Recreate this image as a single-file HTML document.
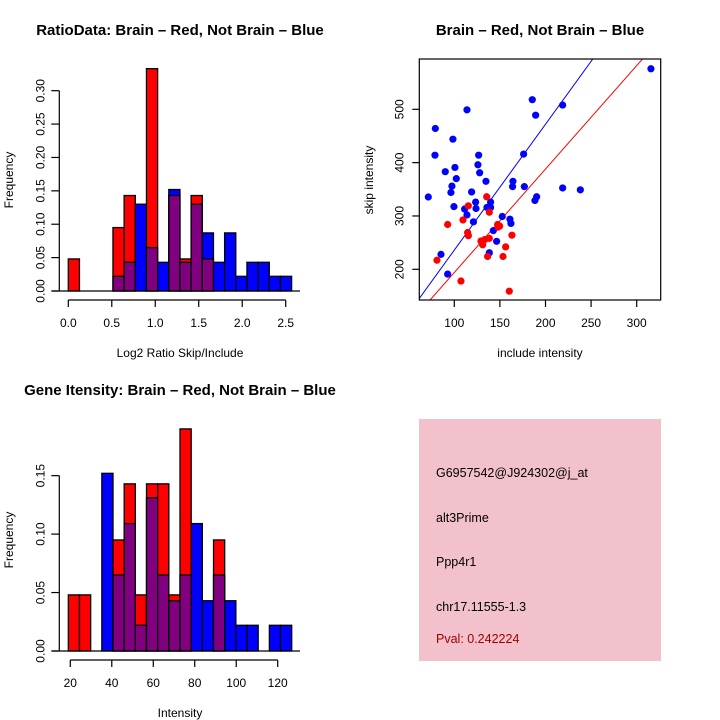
<!DOCTYPE html>
<html><head><meta charset="utf-8"><style>
body{margin:0;background:#fff}
svg{display:block;font-family:"Liberation Sans",sans-serif}
</style></head><body>
<svg id="c" width="720" height="720" viewBox="0 0 720 720">
<rect width="720" height="720" fill="#fff"/>
<g id="p1"></g>
<g id="p2"></g>
<g id="p3"></g>
<g id="p4">
<rect x="419" y="419" width="242" height="242" fill="#f2c1cc"/>
<text x="436" y="477" font-size="12.5" fill="#000">G6957542@J924302@j_at</text>
<text x="436" y="522" font-size="12.5" fill="#000">alt3Prime</text>
<text x="436" y="566" font-size="12.5" fill="#000">Ppp4r1</text>
<text x="436" y="611" font-size="12.5" fill="#000">chr17.11555-1.3</text>
<text x="436" y="643" font-size="12.5" fill="#a00000">Pval: 0.242224</text>
</g>
</svg>
<script>
// Ratio histogram data (bin index 0..19)
const ratioRed  = [0.048,0,0,0,0.095,0.143,0,0.333,0,0.143,0.048,0.143,0.048,0,0,0,0,0,0,0];
const ratioBlue = [0,0,0,0,0.022,0.043,0.13,0.065,0.043,0.152,0.043,0.13,0.087,0.043,0.087,0.022,0.043,0.043,0.022,0.022];
const ratioBinStart = 0.0, ratioBinWidth = 0.1284;
const ratioXTicks = [0,0.5,1.0,1.5,2.0,2.5];
const ratioXTickLabels = ["0.0","0.5","1.0","1.5","2.0","2.5"];
const ratioYTicks = [0,0.05,0.10,0.15,0.20,0.25,0.30];
const ratioYTickLabels = ["0.00","0.05","0.10","0.15","0.20","0.25","0.30"];
// Gene intensity histogram data
const geneRed  = [0.048,0.048,0,0,0.095,0.143,0.048,0.143,0.143,0.048,0.190,0,0,0.095,0,0,0,0,0,0];
const geneBlue = [0,0,0,0.152,0.065,0.109,0.022,0.131,0.065,0.043,0.065,0.109,0.043,0.065,0.043,0.022,0.022,0,0.022,0.022];
const geneBinStart = 19.05, geneBinWidth = 5.385;
const geneXTicks = [20,40,60,80,100,120];
const geneXTickLabels = ["20","40","60","80","100","120"];
const geneYTicks = [0,0.05,0.10,0.15];
const geneYTickLabels = ["0.00","0.05","0.10","0.15"];
// Scatter data
const blueInclude = [71.5,79.2,78.8,90.1,98.5,113.9,85.4,92.7,97.4,96.3,100.7,102.2,99.6,111.3,113.9,119,121,123.4,123.8,126.7,125.9,127.8,134.7,135.8,139.8,139.8,138.4,142.8,146.4,152.6,161,162.1,164.3,163.9,176,176.8,185.5,189.2,188.4,190.3,218.8,218.8,238.2,315.6];
const blueSkip    = [335.6,464,414,383,444,499,228,191,356,344,391,370,317.5,313,302,345,289,326,314,414,396,381,365,316,326,316,231,272.5,252.5,299,294,286,365,355,416,355,518,489,329,336,508,352.5,349,576];
const redInclude = [81,92.7,107.3,109.5,115.4,115.4,114.6,135.5,138.4,129.2,131.1,133.6,138.4,136.5,147.5,149.7,147.9,156.3,153.4,163.2,160.3];
const redSkip    = [217,284,178,292.5,319,263,269,336,307,253,246,256,258,224,284,281,279,242,224,264,159];
const blueSlope = 2.36, redSlope = 1.94;
const scXTicks = [100,150,200,250,300];
const scXTickLabels = ["100","150","200","250","300"];
const scYTicks = [200,300,400,500];
const scYTickLabels = ["200","300","400","500"];

const NS = "http://www.w3.org/2000/svg";
function mk(parent, tag, attrs){const e=document.createElementNS(NS,tag);for(const k in attrs)e.setAttribute(k,attrs[k]);parent.appendChild(e);return e;}
function txt(parent, x, y, s, size, opts){const t=mk(parent,'text',{x:x,y:y,'font-size':size,'text-anchor':'middle',fill:'#000'});if(opts&&opts.rot)t.setAttribute('transform','rotate(-90 '+x+' '+y+')');if(opts&&opts.bold)t.setAttribute('font-weight','bold');t.textContent=s;return t;}

function hist(g, red, blue, start, width, xsc, ysc, baseY){
  for(let i=0;i<red.length;i++){
    const x0=xsc(start+i*width), x1=xsc(start+(i+1)*width);
    const r=red[i], b=blue[i];
    const mx=Math.max(r,b), mn=Math.min(r,b);
    if(mx<=0) continue;
    const col = r>=b ? '#ff0000' : '#0000ff';
    let e=mk(g,'rect',{x:x0,y:ysc(mx),width:x1-x0,height:ysc(0)-ysc(mx),fill:col,stroke:'#000','stroke-width':1.3});
    
    
    if(mn>0){
      e=mk(g,'rect',{x:x0,y:ysc(mn),width:x1-x0,height:ysc(0)-ysc(mn),fill:'#800080',stroke:'#000','stroke-width':1.3});
      
      
    }
  }
  mk(g,'line',{x1:51.7,x2:300,y1:baseY,y2:baseY,stroke:'#000','stroke-width':1.3});
}
function axes(g, xsc, ysc, xt, xl, yt, yl, xAxisY, yAxisX){
  const xa=mk(g,'g',{});
  
  
  mk(xa,'line',{x1:xsc(xt[0]),x2:xsc(xt[xt.length-1]),y1:xAxisY,y2:xAxisY,stroke:'#000','stroke-width':1.2});
  xt.forEach((v,i)=>{mk(xa,'line',{x1:xsc(v),x2:xsc(v),y1:xAxisY,y2:xAxisY+7,stroke:'#000','stroke-width':1.2});txt(xa,xsc(v),xAxisY+27,xl[i],12);});
  const ya=mk(g,'g',{});
  
  
  mk(ya,'line',{x1:yAxisX,x2:yAxisX,y1:ysc(yt[0]),y2:ysc(yt[yt.length-1]),stroke:'#000','stroke-width':1.2});
  yt.forEach((v,i)=>{mk(ya,'line',{x1:yAxisX,x2:yAxisX-8,y1:ysc(v),y2:ysc(v),stroke:'#000','stroke-width':1.2});txt(ya,yAxisX-15,ysc(v),yl[i],12,{rot:true});});
}

// Panel 1
(function(){
  const g=document.getElementById('p1');
  const xsc=v=>68.3+v*86.96, ysc=v=>291-v*667.7;
  hist(g,ratioRed,ratioBlue,ratioBinStart,ratioBinWidth,xsc,ysc,291);
  axes(g,xsc,ysc,ratioXTicks,ratioXTickLabels,ratioYTicks,ratioYTickLabels,300,59.3);
  let t=txt(g,180,35,'RatioData: Brain \u2013 Red, Not Brain \u2013 Blue',15,{bold:true});
  
  
  t=txt(g,180,357,'Log2 Ratio Skip/Include',12);
  
  
  t=txt(g,13,180,'Frequency',12,{rot:true});
  
  
})();
// Panel 3
(function(){
  const g=document.getElementById('p3');
  const xsc=v=>70.3+(v-20)*2.074, ysc=v=>651-v*1168.9;
  hist(g,geneRed,geneBlue,geneBinStart,geneBinWidth,xsc,ysc,651);
  axes(g,xsc,ysc,geneXTicks,geneXTickLabels,geneYTicks,geneYTickLabels,660,59.3);
  let t=txt(g,180,395,'Gene Itensity: Brain \u2013 Red, Not Brain \u2013 Blue',15,{bold:true});
  
  
  t=txt(g,180,717,'Intensity',12);
  
  
  t=txt(g,13,540,'Frequency',12,{rot:true});
  
  
})();
// Panel 2 scatter
(function(){
  const g=document.getElementById('p2');
  const xsc=v=>454.3+(v-100)*0.912, ysc=v=>269.3-(v-200)*0.5333;
  const X0=419.3,X1=660.7,Y0=59,Y1=300;
  const cp=mk(g,'clipPath',{id:'scclip'});mk(cp,'rect',{x:X0,y:Y0,width:X1-X0,height:Y1-Y0});
  const xmin=(X0-454.3)/0.912+100, xmax=(X1-454.3)/0.912+100;
  let l=mk(g,'line',{x1:xsc(xmin),y1:ysc(blueSlope*xmin),x2:xsc(xmax),y2:ysc(blueSlope*xmax),stroke:'#0000ff','stroke-width':1,'clip-path':'url(#scclip)'});
  
  
  l=mk(g,'line',{x1:xsc(xmin),y1:ysc(redSlope*xmin),x2:xsc(xmax),y2:ysc(redSlope*xmax),stroke:'#ff0000','stroke-width':1,'clip-path':'url(#scclip)'});
  
  
  blueInclude.forEach((v,i)=>{const c=mk(g,'circle',{cx:xsc(v),cy:ysc(blueSkip[i]),r:3.6,fill:'#0000ff'});
    
    });
  redInclude.forEach((v,i)=>{const c=mk(g,'circle',{cx:xsc(v),cy:ysc(redSkip[i]),r:3.6,fill:'#ff0000'});
    
    });
  const b=mk(g,'rect',{x:X0,y:Y0,width:X1-X0,height:Y1-Y0,fill:'none',stroke:'#000','stroke-width':1.2});
  
  
  scXTicks.forEach((v,i)=>{mk(g,'line',{x1:xsc(v),x2:xsc(v),y1:Y1,y2:Y1+7,stroke:'#000','stroke-width':1.2});txt(g,xsc(v),Y1+27,scXTickLabels[i],12);});
  scYTicks.forEach((v,i)=>{mk(g,'line',{x1:X0,x2:X0-7,y1:ysc(v),y2:ysc(v),stroke:'#000','stroke-width':1.2});txt(g,X0-16,ysc(v),scYTickLabels[i],12,{rot:true});});
  let t=txt(g,540,35,'Brain \u2013 Red, Not Brain \u2013 Blue',15,{bold:true});
  
  
  t=txt(g,540,357,'include intensity',12);
  
  
  t=txt(g,373,180,'skip intensity',12,{rot:true});
  
  
})();
</script>
</body></html>
